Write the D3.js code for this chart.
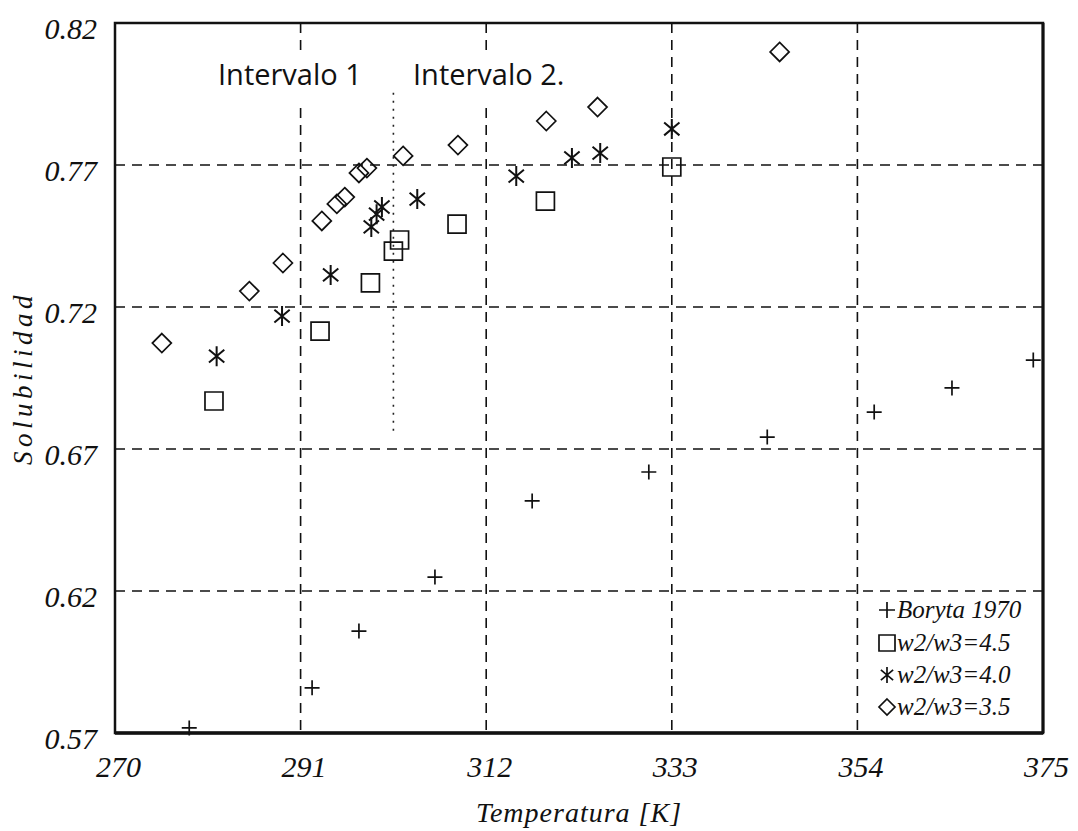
<!DOCTYPE html>
<html>
<head>
<meta charset="utf-8">
<script src="https://cdn.jsdelivr.net/npm/d3@7"></script>
<style>
  body { margin: 0; background: #fff; }
  .serif { font-family: "Liberation Serif", "Times New Roman", serif; font-style: italic; fill: #111; }
</style>
</head>
<body>
<div id="chart"></div>
<script>
// axis ticks
var xTicks = [270, 291, 312, 333, 354, 375];
var yTicks = [0.57, 0.62, 0.67, 0.72, 0.77, 0.82];

// Boryta 1970
var borytaT = [278.4, 292.3, 297.6, 306.2, 317.2, 330.4, 343.8, 355.9, 364.7, 373.9];
var borytaS = [0.5718, 0.5859, 0.6059, 0.6249, 0.6517, 0.6619, 0.6742, 0.6830, 0.6915, 0.7013];

// w2/w3 = 4.5
var sq45T = [281.2, 293.2, 298.9, 301.5, 302.2, 308.7, 318.7, 333.0];
var sq45S = [0.6869, 0.7115, 0.7285, 0.7397, 0.7436, 0.7492, 0.7573, 0.7693];

// w2/w3 = 4.0
var st40T = [281.5, 288.9, 294.4, 299.0, 299.6, 300.2, 304.2, 315.4, 321.7, 324.9, 333.0];
var st40S = [0.7027, 0.7168, 0.7313, 0.7482, 0.7527, 0.7552, 0.7580, 0.7661, 0.7725, 0.7742, 0.7827];

// w2/w3 = 3.5
var di35T = [275.3, 285.2, 289.0, 293.4, 295.1, 296.0, 297.6, 298.5, 302.6, 308.8, 318.8, 324.6, 345.2];
var di35S = [0.7073, 0.7256, 0.7355, 0.7503, 0.7563, 0.7587, 0.7672, 0.7689, 0.7732, 0.7770, 0.7855, 0.7904, 0.8098];

var legendLabels = ["Boryta 1970", "w2/w3=4.5", "w2/w3=4.0", "w2/w3=3.5"];
var intervalLabels = ["Intervalo 1", "Intervalo 2."];
var intervalSplit = 301.5;

var width = 1078, height = 831;
var plotLeft = 115, plotRight = 1043, plotTop = 23, plotBottom = 733;

var x = d3.scaleLinear().domain([270, 375]).range([plotLeft, plotRight]);
var y = d3.scaleLinear().domain([0.57, 0.82]).range([plotBottom, plotTop]);

var svg = d3.select("#chart")
    .append("svg")
    .attr("width", width)
    .attr("height", height)
    .style("background", "#fff");

// marker shapes, drawn around 0,0
function markerPath(kind, s) {
    var p = d3.path();
    var h = s / 2;
    if (kind === "plus") {
        p.moveTo(-h, 0); p.lineTo(h, 0);
        p.moveTo(0, -h); p.lineTo(0, h);
    } else if (kind === "square") {
        p.rect(-h, -h, s, s);
    } else if (kind === "diamond") {
        p.moveTo(0, -h); p.lineTo(h, 0); p.lineTo(0, h); p.lineTo(-h, 0); p.closePath();
    } else if (kind === "star") {
        [90, 140, 40].forEach(function(a) {
            var r = a * Math.PI / 180;
            p.moveTo(h * Math.cos(r), -h * Math.sin(r));
            p.lineTo(-h * Math.cos(r), h * Math.sin(r));
        });
    }
    return p.toString();
}

// grid lines (dashed)
var grid = svg.append("g")
    .attr("stroke", "#111")
    .attr("stroke-width", 1.6)
    .attr("stroke-dasharray", "10,7");

grid.selectAll(".hgrid")
    .data(yTicks.slice(1, -1))
    .enter()
    .append("line")
    .attr("x1", plotLeft).attr("x2", plotRight)
    .attr("y1", d => y(d)).attr("y2", d => y(d));

grid.selectAll(".vgrid")
    .data(xTicks.slice(1, -1))
    .enter()
    .append("line")
    .attr("x1", d => x(d)).attr("x2", d => x(d))
    .attr("y1", plotTop).attr("y2", plotBottom);

// dotted separator between the two intervals
svg.append("line")
    .attr("x1", x(intervalSplit)).attr("x2", x(intervalSplit))
    .attr("y1", y(0.7954)).attr("y2", y(0.6749))
    .attr("stroke", "#222")
    .attr("stroke-width", 1.6)
    .attr("stroke-dasharray", "2,6");

// interval labels on white boxes
var intervalPos = [[218, 85], [413, 85]];
intervalLabels.forEach(function(t, i) {
    var g = svg.append("g");
    var txt = g.append("text")
        .attr("x", intervalPos[i][0])
        .attr("y", intervalPos[i][1])
        .style("font-family", "'Open Sans', sans-serif")
        .style("font-size", "29px")
        .attr("fill", "#111")
        .text(t);
    var bb = txt.node().getBBox();
    g.insert("rect", "text")
        .attr("x", bb.x - 2).attr("y", bb.y - 2)
        .attr("width", bb.width + 4).attr("height", bb.height + 10)
        .attr("fill", "#fff");
});

// frame
svg.append("rect")
    .attr("x", plotLeft).attr("y", plotTop)
    .attr("width", plotRight - plotLeft).attr("height", plotBottom - plotTop)
    .attr("fill", "none")
    .attr("stroke", "#111")
    .attr("stroke-width", 2.5);
svg.append("line")
    .attr("x1", plotLeft).attr("x2", plotRight)
    .attr("y1", plotBottom).attr("y2", plotBottom)
    .attr("stroke", "#111").attr("stroke-width", 3.5);
svg.append("line")
    .attr("x1", plotRight).attr("x2", plotRight)
    .attr("y1", plotTop).attr("y2", plotBottom)
    .attr("stroke", "#111").attr("stroke-width", 3);

// series
var series = [
    {kind: "plus", T: borytaT, S: borytaS, size: 15},
    {kind: "square", T: sq45T, S: sq45S, size: 18},
    {kind: "star", T: st40T, S: st40S, size: 20},
    {kind: "diamond", T: di35T, S: di35S, size: 19}
];

series.forEach(function(s) {
    svg.append("g")
        .selectAll("path")
        .data(d3.range(s.T.length))
        .enter()
        .append("path")
        .attr("transform", i => `translate(${x(s.T[i])},${y(s.S[i])})`)
        .attr("d", markerPath(s.kind, s.size))
        .attr("fill", "none")
        .attr("stroke", "#111")
        .attr("stroke-width", s.kind === "star" ? 2 : 1.7);
});

// x axis labels
var xAxis = svg.append("g")
    .attr("transform", `translate(3, 777)`)
    .call(d3.axisBottom(x).tickValues(xTicks).tickSize(0).tickPadding(0).tickFormat(d3.format("d")));
xAxis.select(".domain").remove();
xAxis.selectAll("text")
    .attr("class", "serif")
    .attr("dy", 0)
    .style("font-size", "30px");

// y axis labels
var yAxis = svg.append("g")
    .attr("transform", `translate(97, 15)`)
    .call(d3.axisLeft(y).tickValues(yTicks).tickSize(0).tickPadding(0).tickFormat(d3.format(".2f")));
yAxis.select(".domain").remove();
yAxis.selectAll("text")
    .attr("class", "serif")
    .attr("dy", 0)
    .style("font-size", "30px");

// axis titles
svg.append("text")
    .attr("class", "serif")
    .attr("x", (plotLeft + plotRight) / 2)
    .attr("y", 822)
    .attr("text-anchor", "middle")
    .style("font-size", "28px")
    .style("letter-spacing", "1px")
    .text("Temperatura [K]");

svg.append("text")
    .attr("class", "serif")
    .attr("transform", `translate(32, ${(plotTop + plotBottom) / 2}) rotate(-90)`)
    .attr("text-anchor", "middle")
    .style("font-size", "27px")
    .style("letter-spacing", "4.5px")
    .text("Solubilidad");

// legend
var legend = svg.append("g");
var legendY = [618, 651, 683, 715];
series.forEach(function(s, i) {
    legend.append("path")
        .attr("transform", `translate(887, ${legendY[i] - 8})`)
        .attr("d", markerPath(s.kind, 16))
        .attr("fill", "none")
        .attr("stroke", "#111")
        .attr("stroke-width", 1.7);
    legend.append("text")
        .attr("class", "serif")
        .attr("x", 897)
        .attr("y", legendY[i])
        .style("font-size", "25px")
        .text(legendLabels[i]);
});
</script>
</body>
</html>
